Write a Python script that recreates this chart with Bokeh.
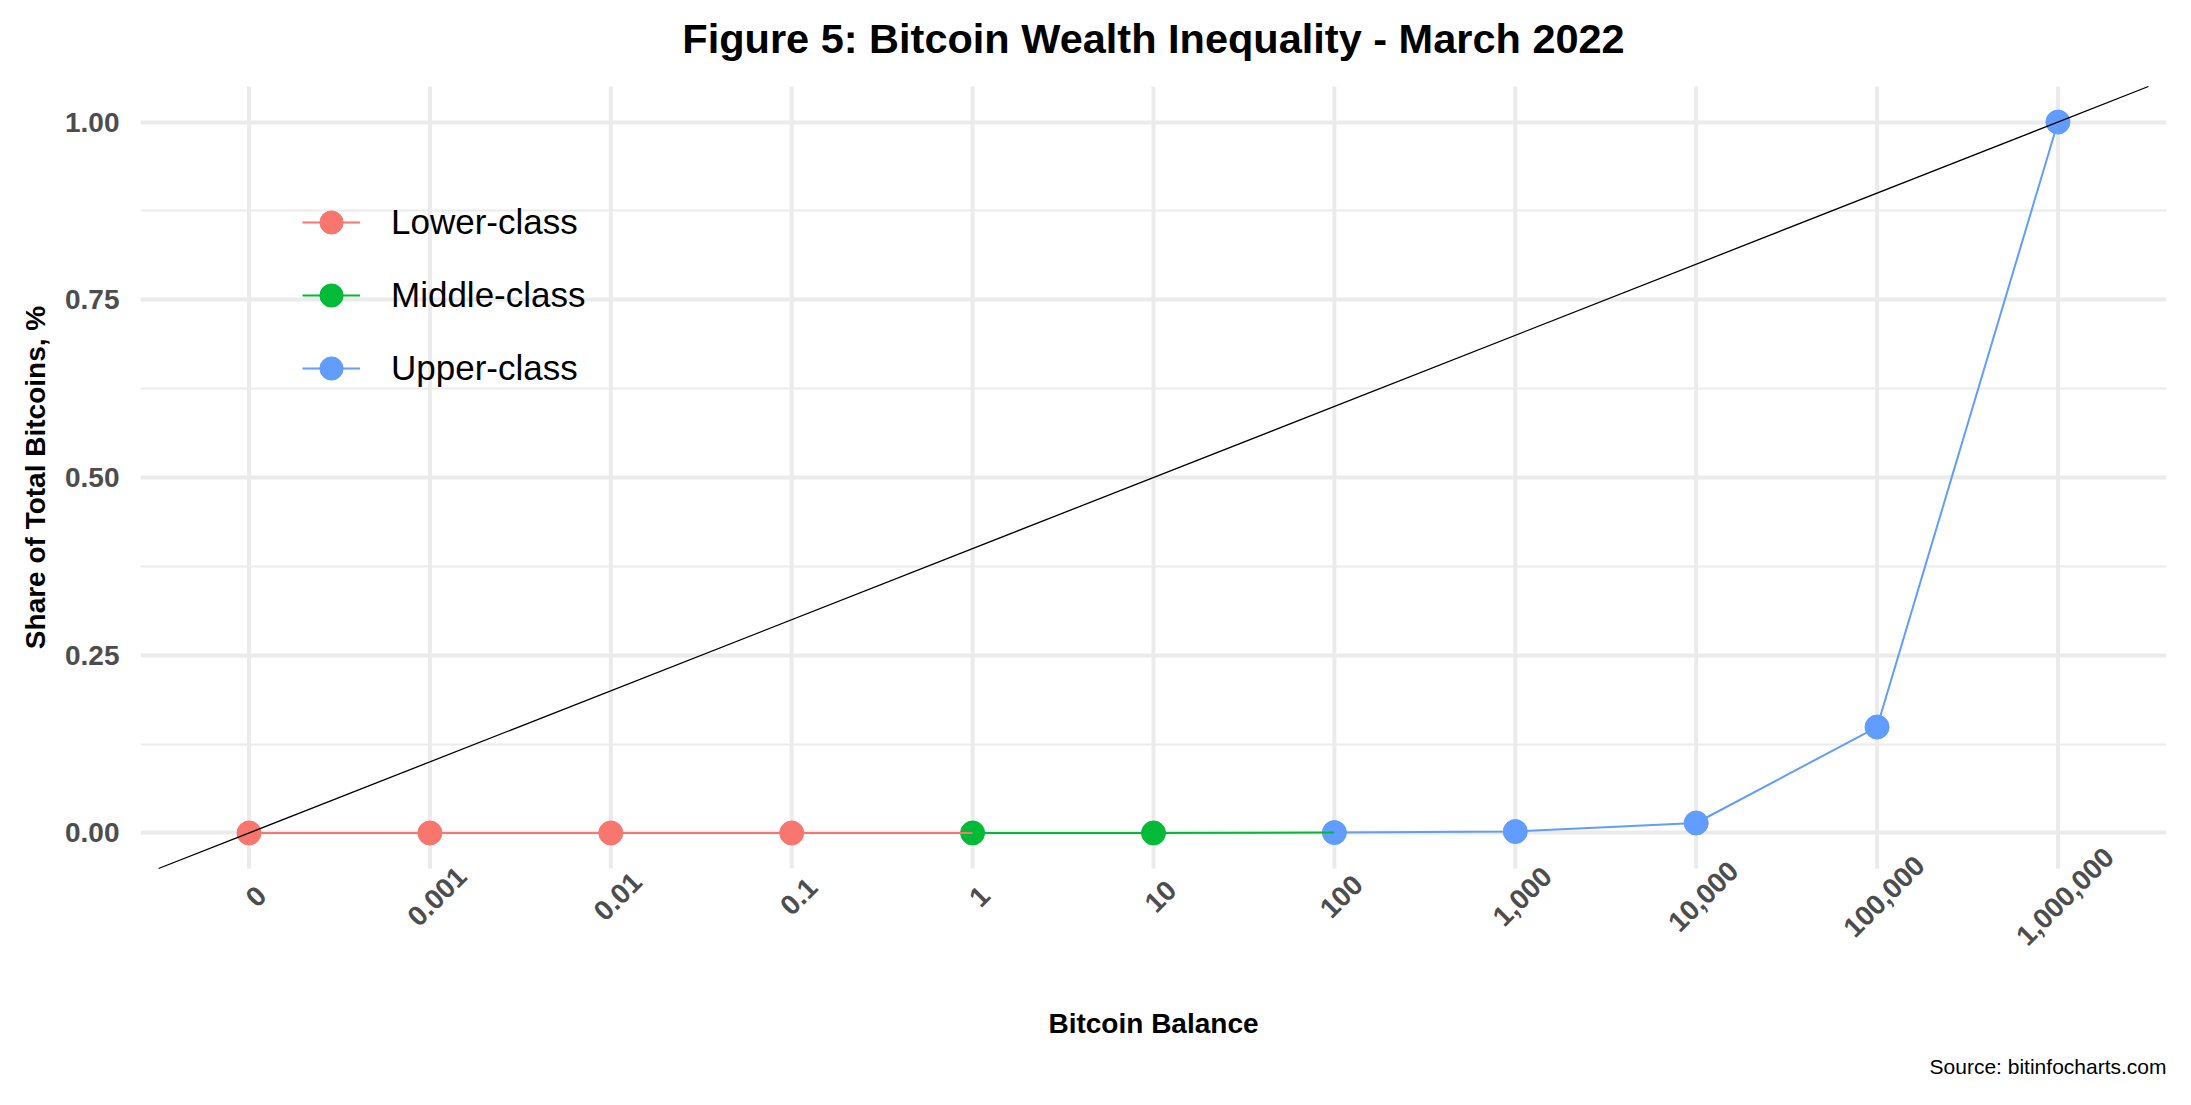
import math
from bokeh.plotting import figure
from bokeh.models import (Range1d, FixedTicker, Legend, LegendItem, Title,
                          NumeralTickFormatter)
from bokeh.core.properties import value
from bokeh.embed import file_html
from bokeh.resources import INLINE

# ---------------- data ----------------
title_text = "Figure 5: Bitcoin Wealth Inequality - March 2022"
balance_labels = ["0", "0.001", "0.01", "0.1", "1", "10", "100",
                  "1,000", "10,000", "100,000", "1,000,000"]
share = [0.0, 0.0, 0.0, 0.0, 0.0, 0.0, 0.0005, 0.002, 0.014, 0.149, 1.0]
classes = ["Lower-class"] * 4 + ["Middle-class"] * 2 + ["Upper-class"] * 5
class_names = ["Lower-class", "Middle-class", "Upper-class"]
class_colors = ["#F8766D", "#00BA38", "#619CFF"]
y_ticks = [0.0, 0.25, 0.5, 0.75, 1.0]

FONT = "Liberation Sans"
n = len(balance_labels)
x_idx = list(range(1, n + 1))

# panel (ggplot-like) limits; the frame is extended equally above and below
PANEL_LO, PANEL_HI = -0.05, 1.05
PANEL_PX = 782
EXTRA_PX = 84
unit = (PANEL_HI - PANEL_LO) / PANEL_PX
X_LO, X_HI = 0.4, n + 0.6

p = figure(title=None, frame_width=2026, frame_height=PANEL_PX + 2 * EXTRA_PX,
           min_border_left=140, min_border_right=25,
           min_border_top=86 - EXTRA_PX, min_border_bottom=145,
           x_range=Range1d(X_LO, X_HI),
           y_range=Range1d(PANEL_LO - EXTRA_PX * unit, PANEL_HI + EXTRA_PX * unit),
           output_backend="svg", toolbar_location=None)
p.outline_line_color = None
p.background_fill_color = "white"
p.border_fill_color = "white"

# grids
minor = [(a + b) / 2 for a, b in zip(y_ticks[:-1], y_ticks[1:])]
p.xaxis.ticker = FixedTicker(ticks=[])
p.xgrid.visible = False
p.yaxis.ticker = FixedTicker(ticks=y_ticks, minor_ticks=minor)
p.ygrid.grid_line_color = "#EBEBEB"
p.ygrid.grid_line_width = 4
p.ygrid.minor_grid_line_color = "#EBEBEB"
p.ygrid.minor_grid_line_width = 2
# vertical grid lines limited to the data panel
p.segment(x0=x_idx, y0=[PANEL_LO] * n, x1=x_idx, y1=[PANEL_HI] * n,
          line_color="#EBEBEB", line_width=4, level="underlay")

# axes
for ax in (p.xaxis[0], p.yaxis[0]):
    ax.axis_line_color = None
    ax.major_tick_line_color = None
    ax.minor_tick_line_color = None
    ax.major_tick_out = 0
    ax.minor_tick_out = 0
    ax.axis_label_text_font = FONT
    ax.axis_label_text_font_size = "28px"
    ax.axis_label_text_font_style = "bold"
    ax.axis_label_text_color = "black"

p.yaxis.formatter = NumeralTickFormatter(format="0.00")
p.yaxis.major_label_text_font = FONT
p.yaxis.major_label_text_font_size = "28px"
p.yaxis.major_label_text_font_style = "bold"
p.yaxis.major_label_text_color = "#4D4D4D"
p.yaxis.major_label_standoff = 21
p.yaxis.axis_label = "Share of Total Bitcoins, %"
p.yaxis.axis_label_standoff = 11

p.xaxis.major_label_standoff = 0
p.xaxis.axis_label = "Bitcoin Balance"
p.xaxis.axis_label_standoff = 55

# title, centred over the panel
p.text(x=[(X_LO + X_HI) / 2], y=[PANEL_HI], text=[title_text],
       text_align="center", text_baseline="middle", y_offset=-48,
       text_font=value(FONT), text_font_size=value("41.5px"), text_font_style="bold",
       text_color="black")

# x tick labels (rotated 45 degrees, centred on ticks)
p.text(x=x_idx, y=[PANEL_LO] * n, text=balance_labels,
       angle=math.pi / 4, text_align="center", text_baseline="middle",
       x_offset=7, y_offset=28,
       text_font=value(FONT), text_font_size=value("28px"), text_font_style="bold",
       text_color="#4D4D4D")

# series: points, then connecting lines
pt_renderers = []
for name, color in zip(class_names, class_colors):
    idx = [i for i, c in enumerate(classes) if c == name]
    pt_renderers.append(p.scatter([x_idx[i] for i in idx], [share[i] for i in idx],
                                  size=24, color=color))
line_renderers = []
for name, color in zip(class_names, class_colors):
    idx = [i for i, c in enumerate(classes) if c == name]
    last = min(idx[-1] + 1, n - 1)
    seg = list(range(idx[0], last + 1))
    line_renderers.append(p.line([x_idx[i] for i in seg], [share[i] for i in seg],
                                 line_color=color, line_width=2))

# line of equality, clipped to the panel
grad = (share[-1] - share[0]) / (x_idx[-1] - x_idx[0])
icpt = share[0] - grad * x_idx[0]
p.segment(x0=[(PANEL_LO - icpt) / grad], y0=[PANEL_LO],
          x1=[(PANEL_HI - icpt) / grad], y1=[PANEL_HI],
          line_color="black", line_width=1.3)

items = [LegendItem(label=name, renderers=[lr, pr])
         for name, lr, pr in zip(class_names, line_renderers, pt_renderers)]
legend = Legend(items=items, location=(162, 471 + EXTRA_PX), glyph_width=58,
                glyph_height=58, label_height=58, spacing=15, padding=0, margin=0,
                label_standoff=31, label_text_font=FONT, label_text_font_size="35px",
                label_text_color="black", background_fill_alpha=0,
                border_line_color=None)
p.add_layout(legend)

cap = Title(text="Source: bitinfocharts.com", align="right", text_font=FONT,
            text_font_size="21px", text_font_style="normal", text_color="black",
            standoff=23)
p.add_layout(cap, "below")

open("out.html", "w").write(file_html(p, INLINE))
